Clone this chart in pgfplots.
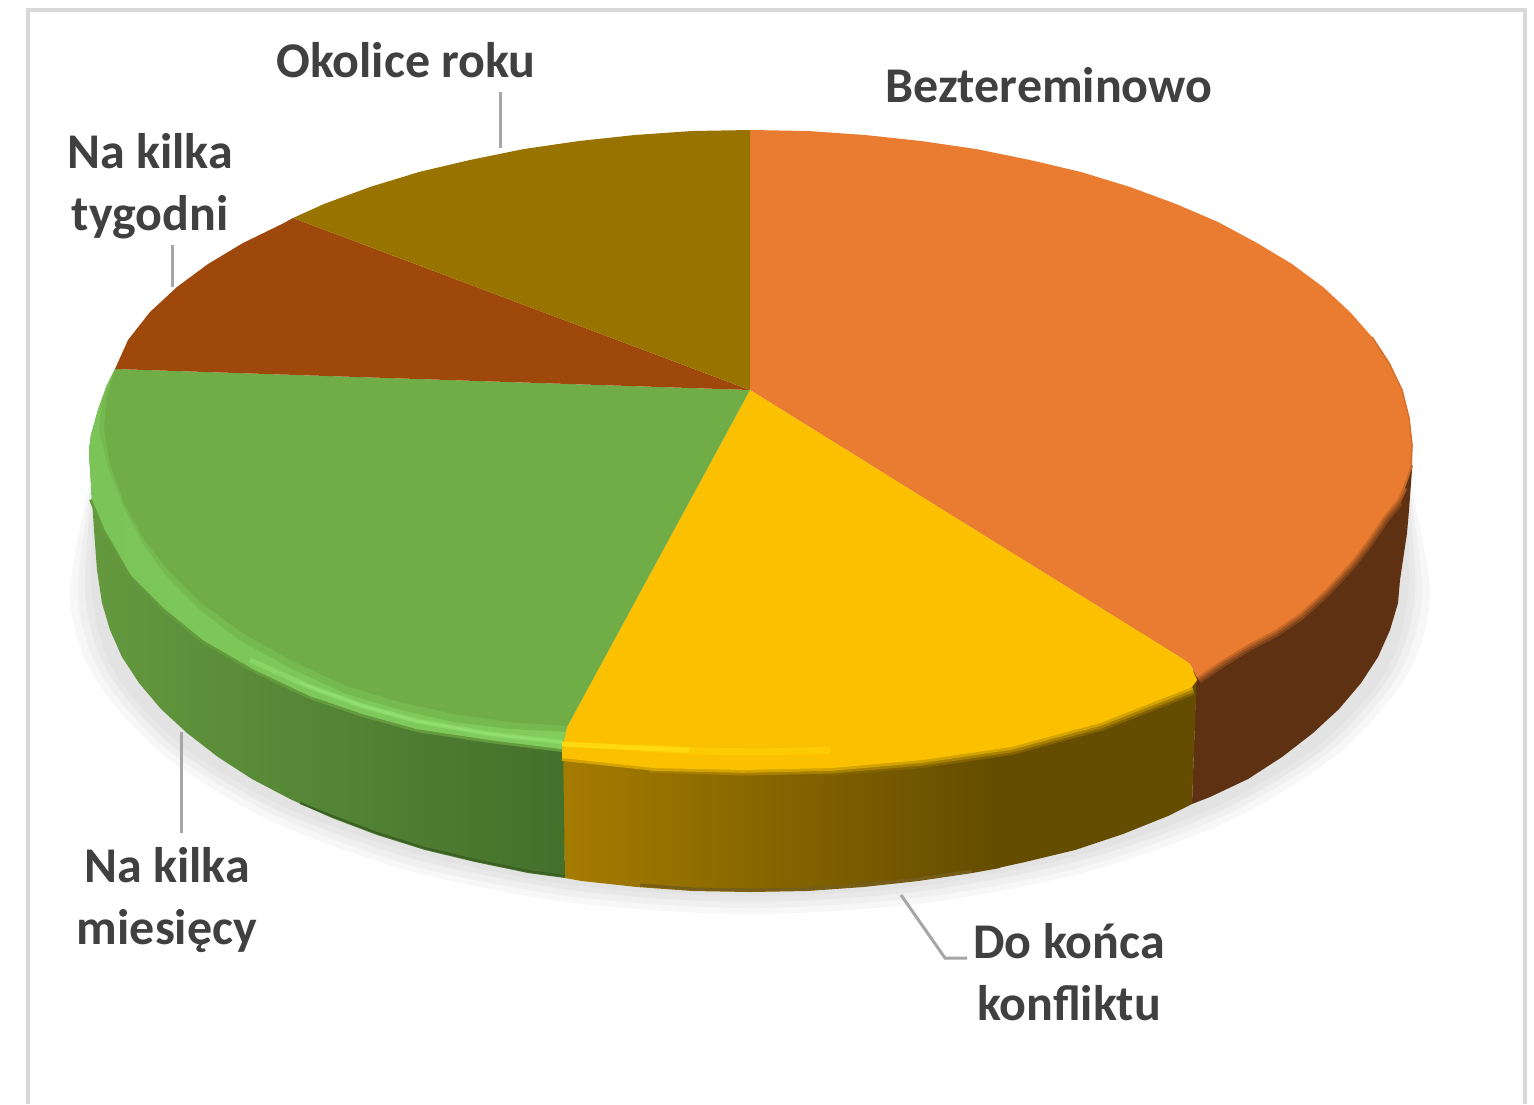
\documentclass[border=0pt]{standalone}
\usepackage{fontspec}
\setmainfont{Carlito}
\usepackage{pgfplots}
\pgfplotsset{compat=1.18}
\definecolor{orangeface}{HTML}{E97C30}
\definecolor{orangeside}{HTML}{5F3113}
\definecolor{yellowface}{HTML}{FBC000}
\definecolor{yellowsideA}{HTML}{A67C00}
\definecolor{yellowsideB}{HTML}{644C00}
\definecolor{greenface}{HTML}{70AD47}
\definecolor{greensideA}{HTML}{64993F}
\definecolor{greensideB}{HTML}{44702B}
\definecolor{brownface}{HTML}{9E480C}
\definecolor{oliveface}{HTML}{997300}
\definecolor{bevelsoft}{HTML}{76B94F}
\definecolor{bevelA}{HTML}{7BC458}
\definecolor{bevelB}{HTML}{82CC5E}
\definecolor{bevelmid}{HTML}{89D566}
\definecolor{bevelhi}{HTML}{92DE70}
\definecolor{yellowhiA}{HTML}{FDCB04}
\definecolor{yellowhiB}{HTML}{FFDA12}
\definecolor{labeltext}{HTML}{404040}
\definecolor{leader}{HTML}{A6A6A6}
\definecolor{frame}{HTML}{D9D9D9}
\begin{document}
\begin{tikzpicture}
\begin{axis}[
  scale only axis, width=767pt, height=552pt,
  xmin=0, xmax=1534, ymin=0, ymax=1104, y dir=reverse,
  hide axis, clip=true,
  every axis plot/.append style={no markers, forget plot},
  area/.style={draw=none},
  nodes={font=\fontsize{25}{31}\selectfont\bfseries, text=labeltext, align=center},
]
% frame, open at the bottom
\addplot[frame, line width=2pt] coordinates {(28,1104)(28,10)(1525,10)(1525,1104)};

% soft shadow under the pie
\addplot[area, smooth, fill=black!3] coordinates {(1405,460)(1430,592)(1407,675)(1339,753)(1231,820)(1090,871)(926,903)(750,914)(574,903)(410,871)(269,820)(161,753)(93,675)(70,592)(95,460)};
\addplot[area, smooth, fill=black!6] coordinates {(1405,460)(1422,592)(1399,674)(1332,750)(1225,815)(1086,866)(924,897)(750,908)(576,897)(414,866)(275,815)(168,750)(101,674)(78,592)(95,460)};
\addplot[area, smooth, fill=black!9] coordinates {(1405,460)(1415,592)(1392,672)(1326,747)(1220,811)(1082,860)(922,891)(750,902)(578,891)(418,860)(280,811)(174,747)(108,672)(85,592)(95,460)};
\addplot[area, smooth, fill=black!11] coordinates {(1405,460)(1408,592)(1386,671)(1320,744)(1215,807)(1079,855)(920,886)(750,896)(580,886)(421,855)(285,807)(180,744)(114,671)(92,592)(95,460)};

% side walls
\addplot[area, fill=orangeside] coordinates {(1412,445)(1412,470)(1409,510)(1407,533)(1400,580)(1398,603)(1390,630)(1378,657)(1361,683)(1339,709)(1313,733)(1282,757)(1248,779)(1210,797)(1192,804)(1197,660)};
\addplot[area, fill=yellowsideB] coordinates {(998,730)(1197,670)(1192,804)(1168,816)(1123,834)(1075,850)(1025,862)(998,868)};
\addplot[area, left color=yellowsideA, right color=yellowsideB] coordinates {(562,745)(1000,730)(1000,868)(972,873)(918,881)(863,887)(807,891)(750,892)(693,891)(637,887)(582,881)(565,878)};
\addplot[area, left color=greensideA, right color=greensideB] coordinates {(89,451)(92,499)(94,530)(97,570)(102,603)(110,630)(122,657)(139,683)(161,709)(187,733)(218,757)(252,779)(290,799)(332,818)(377,835)(425,850)(475,862)(528,873)(565,878)(563,745)};
% darker lower edge of the walls
\addplot[yellowsideB!90, line width=1.5pt] coordinates {(640,885)(693,889)(750,890)(807,889)(863,885)(918,879)(972,871)};
\addplot[greensideB!85!black, line width=1pt] coordinates {(300,803)(332,816)(377,833)(425,848)(475,860)(528,871)(565,876)};

% soft transition from the top faces to the walls
\addplot[orangeface!25!orangeside, line width=7pt] coordinates {(1397,500)(1383,517)(1367,541)(1350,563)(1325,590)(1300,613)(1275,630)(1250,643)(1222,660)(1197,677)};
\addplot[orangeface!50!orangeside, line width=4.5pt] coordinates {(1403,487)(1397,500)(1383,517)(1367,541)(1350,563)(1325,590)(1300,613)(1275,630)(1250,643)(1222,660)(1197,677)};
\addplot[orangeface!75!orangeside, line width=2.2pt] coordinates {(1411,465)(1403,487)(1397,500)(1383,517)(1367,541)(1350,563)(1325,590)(1300,613)(1275,630)(1250,643)(1222,660)(1197,677)};
\addplot[yellowface!20!yellowsideB, line width=8pt] coordinates {(800,769)(832,768)(922,760)(1011,747)(1100,723)(1192,687)};
\addplot[yellowface!45!yellowsideB, line width=5.5pt] coordinates {(650,767)(743,770)(832,768)(922,760)(1011,747)(1100,723)(1192,687)};
\addplot[yellowface!75!yellowsideB, line width=2.8pt] coordinates {(562,758)(654,768)(743,770)(832,768)(922,760)(1011,747)(1100,723)(1192,687)};
\addplot[greenface!70!greensideB, line width=3pt] coordinates {(92,499)(105,530)(131,575)(165,609)(203,640)(255,670)(310,696)(363,714)(417,729)(490,740)(562,749)};

% top faces
\addplot[area, fill=orangeface] coordinates {(750,390)(750,130)(808,131)(865,135)(921,141)(976,149)(1030,160)(1081,172)(1130,187)(1176,204)(1218,222)(1257,243)(1292,264)(1323,287)(1350,312)(1372,337)(1389,363)(1402,390)(1409,418)(1412,445)(1411,465)(1403,487)(1397,500)(1383,517)(1367,541)(1350,563)(1325,590)(1300,613)(1275,630)(1250,643)(1222,660)(1197,677)(1190,664)(1183,659)};
\addplot[area, fill=yellowface] coordinates {(750,390)(1183,659)(1190,664)(1197,680)(1192,687)(1100,723)(1011,747)(922,760)(832,768)(743,770)(654,768)(562,758)(562,743)(567,727)};
\addplot[area, fill=greenface] coordinates {(750,390)(115,369)(107,385)(98,410)(91,435)(89,451)(92,499)(105,530)(131,575)(165,609)(203,640)(255,670)(310,696)(363,714)(417,729)(490,740)(562,749)(562,743)(567,727)};
\addplot[area, fill=brownface] coordinates {(750,390)(115,369)(128,340)(150,312)(177,287)(208,264)(243,243)(282,224)(293,218)};
\addplot[area, fill=oliveface] coordinates {(750,390)(293,218)(324,204)(370,187)(419,172)(470,160)(524,149)(579,141)(635,135)(692,131)(750,130)};

% thin dark edge on the far right of the orange face
\addplot[orangeface!85!orangeside, line width=0.8pt] coordinates {(1372,337)(1389,363)(1402,390)(1409,418)(1412,445)(1411,465)};

% bevel of the green slice, from soft outer band to bright line
\addplot[area, fill=bevelsoft] coordinates {(92,499)(105,530)(131,575)(165,609)(203,640)(255,670)(310,696)(363,714)(417,729)(490,740)(562,749)(567,726)(510,722)(453,714)(400,702)(346,686)(290,660)(239,631)(200,602)(167,569)(143,538)(124,503)(110,465)(104,430)(106,400)(115,369)(107,385)(98,410)(91,435)(89,451)};
\addplot[area, left color=bevelA, right color=bevelB] coordinates {(92,499)(105,530)(131,575)(165,609)(203,640)(255,670)(310,696)(363,714)(417,729)(490,740)(562,749)(565,732)(510,729)(453,722)(400,710)(346,694)(290,668)(239,640)(200,610)(167,577)(143,544)(124,508)(108,468)(99,430)(102,400)(115,369)(107,385)(98,410)(91,435)(89,451)};
\addplot[bevelmid, line width=2.5pt] coordinates {(250,660)(310,687)(363,706)(417,721)(490,734)(562,742)};
\addplot[bevelhi, line width=1.2pt] coordinates {(300,683)(363,706)(417,721)(490,734)(562,742)};
\addplot[yellowhiA, line width=3.5pt] coordinates {(640,748)(700,751)(760,752)(830,750)};
\addplot[yellowhiB, line width=2.5pt] coordinates {(562,744)(620,747)(690,750)};

% leader lines
\addplot[leader, line width=1.5pt] coordinates {(500,92)(500,148)};
\addplot[leader, line width=1.5pt] coordinates {(172,245)(172,287)};
\addplot[leader, line width=1.5pt] coordinates {(181,732)(181,833)};
\addplot[leader, line width=1.5pt] coordinates {(901,895)(945,958)(967,958)};

% labels
\node at (axis cs:406,60) {Okolice roku};
\node at (axis cs:1049,85) {Bezteremino\kern0pt wo};
\node at (axis cs:150,186) {Na kilka\\tygodni};
\node at (axis cs:167,900) {Na kilka\\miesięcy};
\node at (axis cs:1069,972) {Do końca\\konfliktu};
\path (axis cs:0,0) (axis cs:1534,1104);
\end{axis}
\end{tikzpicture}
\end{document}
